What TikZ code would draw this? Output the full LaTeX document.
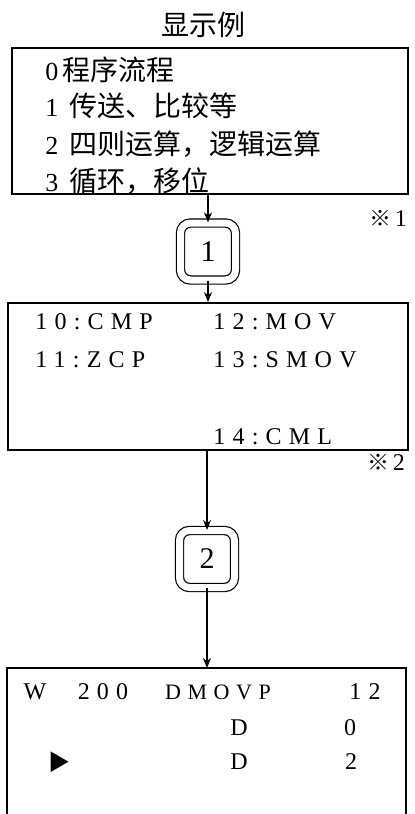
\documentclass[tikz,border=0pt]{standalone}
\usepackage{fontspec}
\setmainfont{Liberation Serif}
\newfontfamily\cjk{Noto Sans CJK SC}
\newfontfamily\spaced[LetterSpace=30]{Liberation Serif}
\newcommand{\zhtext}[1]{{\cjk\fontsize{14}{16}\selectfont #1}}
\usetikzlibrary{arrows.meta}

\begin{document}
\begin{tikzpicture}[
    x=0.5pt, y=-0.5pt,
    panel/.style={draw, line width=0.9pt, inner sep=0pt},
    key/.style={draw, double, double distance=3.5pt, line width=0.6pt, rounded corners=5pt, minimum width=27.5pt, minimum height=28.5pt, inner sep=0pt, font=\fontsize{15}{15}\selectfont},
    item/.style={anchor=west, inner sep=0pt, font=\fontsize{13}{14}\selectfont},
    code/.style={anchor=west, inner sep=0pt, font=\spaced\fontsize{12}{13}\selectfont},
    cell/.style={inner sep=0pt, font=\fontsize{12}{14}\selectfont},
    note/.style={inner sep=0pt, font=\cjk\fontsize{11}{12}\selectfont},
    arrow/.style={-{Stealth[length=5pt, width=4pt]}, line width=0.6pt}
]
    \useasboundingbox (0,0) rectangle (414,814);

    % Menu screen
    \node[inner sep=0pt] (title) at (203,25) {\zhtext{显示例}};
    \node[panel, minimum width=198pt, minimum height=73pt] (menu) at (210,121) {};
    \node[item] (menu0) at (45,70) {0\,\zhtext{程序流程}};
    \node[item] (menu1) at (45,106) {1\,\zhtext{ 传送、比较等}};
    \node[item] (menu2) at (45,144) {2\,\zhtext{ 四则运算，逻辑运算}};
    \node[item] (menu3) at (45,181) {3\,\zhtext{ 循环，移位}};
    \node[note] (mark1) at (388,218) {※\,{\rmfamily\fontsize{12}{12}\selectfont 1}};

    % Key 1
    \node[key] (key1) at (208,251.5) {1};

    % Instruction list
    \node[panel, minimum width=200pt, minimum height=73.5pt] (list) at (208,376.5) {};
    \node[code] (cmp) at (35,322) {10:CMP};
    \node[code] (zcp) at (35,360) {11:ZCP};
    \node[code] (mov) at (213,322) {12:MOV};
    \node[code] (smov) at (213,360) {13:SMOV};
    \node[code] (cml) at (213,437) {14:CML};
    \node[note] (mark2) at (386,462) {※\,{\rmfamily\fontsize{12}{12}\selectfont 2}};

    % Key 2
    \node[key] (key2) at (207,559) {2};

    % Program screen (open at the bottom)
    \draw[line width=0.9pt] (7,814) -- (7,668) -- (406,668) -- (406,814);
    \coordinate (prog) at (207,668);
    \node[cell] (step) at (35,692) {W};
    \node[cell, font=\spaced\fontsize{12}{14}\selectfont] (addr) at (103,692) {200};
    \node[cell, font=\spaced\fontsize{11}{14}\selectfont] (instr) at (218,692) {DMOVP};
    \node[cell, font=\spaced\fontsize{12}{14}\selectfont] (fnum) at (365,692) {12};
    \node[cell] (dev1) at (239,728) {D};
    \node[cell] (num1) at (350,728) {0};
    \node[cell, font=\cjk\fontsize{11}{12}\selectfont] (cursor) at (59,762) {▶};
    \node[cell] (dev2) at (239,762) {D};
    \node[cell] (num2) at (351,762) {2};

    % Arrows
    \draw[arrow] (menu.south -| key1) -- (key1.north);
    \draw[arrow] (key1.south) -- (key1.south |- list.north);
    \draw[arrow] (list.south -| key2) -- (key2.north);
    \draw[arrow] (key2.south) -- (prog);
\end{tikzpicture}
\end{document}
